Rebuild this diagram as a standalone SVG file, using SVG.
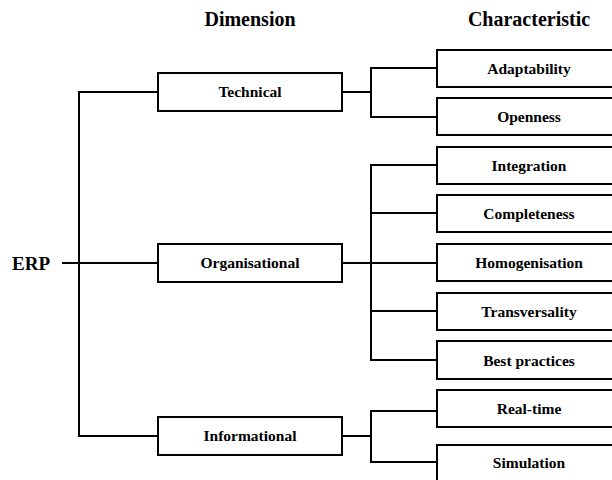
<svg xmlns="http://www.w3.org/2000/svg" width="612" height="480" viewBox="0 0 612 480">
  <style>
    .box { fill: #ffffff; stroke: #000000; stroke-width: 2; }
    .wire { fill: none; stroke: #000000; stroke-width: 2; stroke-linecap: square; }
    .lbl { font-family: "Liberation Serif", "Times New Roman", serif; font-weight: bold; font-size: 15.5px; fill: #000000; text-anchor: middle; }
    .head { font-family: "Liberation Serif", "Times New Roman", serif; font-weight: bold; font-size: 20px; fill: #000000; text-anchor: middle; }
  </style>
  <rect width="612" height="480" fill="#ffffff"/>

  <!-- column headings -->
  <text class="head" x="250" y="26">Dimension</text>
  <text class="head" x="529" y="26">Characteristic</text>

  <!-- connectors -->
  <g id="connectors">
    <!-- root trunk -->
    <path class="wire" d="M63 263 H158"/>
    <path class="wire" d="M79 92 V436"/>
    <path class="wire" d="M79 92 H158"/>
    <path class="wire" d="M79 436 H158"/>
    <!-- technical branch -->
    <path class="wire" d="M342 92 H371"/>
    <path class="wire" d="M371 68 V117"/>
    <path class="wire" d="M371 68 H437"/>
    <path class="wire" d="M371 117 H437"/>
    <!-- organisational branch -->
    <path class="wire" d="M342 263 H371"/>
    <path class="wire" d="M371 165 V360"/>
    <path class="wire" d="M371 165 H437"/>
    <path class="wire" d="M371 213 H437"/>
    <path class="wire" d="M371 263 H437"/>
    <path class="wire" d="M371 311 H437"/>
    <path class="wire" d="M371 360 H437"/>
    <!-- informational branch -->
    <path class="wire" d="M342 436 H371"/>
    <path class="wire" d="M371 411 V462"/>
    <path class="wire" d="M371 411 H437"/>
    <path class="wire" d="M371 462 H437"/>
  </g>

  <!-- root -->
  <g id="erp">
    <text x="12" y="270" font-family="'Liberation Serif', 'Times New Roman', serif" font-weight="bold" font-size="19">ERP</text>
  </g>

  <!-- dimensions -->
  <g id="technical">
    <rect class="box" x="158" y="73" width="184" height="38"/>
    <text class="lbl" x="250" y="97">Technical</text>
  </g>
  <g id="organisational">
    <rect class="box" x="158" y="244" width="184" height="38"/>
    <text class="lbl" x="250" y="268">Organisational</text>
  </g>
  <g id="informational">
    <rect class="box" x="158" y="417" width="184" height="38"/>
    <text class="lbl" x="250" y="441">Informational</text>
  </g>

  <!-- characteristics -->
  <g id="adaptability">
    <rect class="box" x="437" y="50" width="190" height="37"/>
    <text class="lbl" x="529" y="74">Adaptability</text>
  </g>
  <g id="openness">
    <rect class="box" x="437" y="98" width="190" height="37"/>
    <text class="lbl" x="529" y="122">Openness</text>
  </g>
  <g id="integration">
    <rect class="box" x="437" y="147" width="190" height="37"/>
    <text class="lbl" x="529" y="171">Integration</text>
  </g>
  <g id="completeness">
    <rect class="box" x="437" y="195" width="190" height="37"/>
    <text class="lbl" x="529" y="219">Completeness</text>
  </g>
  <g id="homogenisation">
    <rect class="box" x="437" y="244" width="190" height="37"/>
    <text class="lbl" x="529" y="268">Homogenisation</text>
  </g>
  <g id="transversality">
    <rect class="box" x="437" y="293" width="190" height="37"/>
    <text class="lbl" x="529" y="317">Transversality</text>
  </g>
  <g id="best-practices">
    <rect class="box" x="437" y="341" width="190" height="38"/>
    <text class="lbl" x="529" y="366">Best practices</text>
  </g>
  <g id="real-time">
    <rect class="box" x="437" y="390" width="190" height="37"/>
    <text class="lbl" x="529" y="414">Real-time</text>
  </g>
  <g id="simulation">
    <rect class="box" x="437" y="445" width="190" height="40"/>
    <text class="lbl" x="529" y="468">Simulation</text>
  </g>
</svg>
